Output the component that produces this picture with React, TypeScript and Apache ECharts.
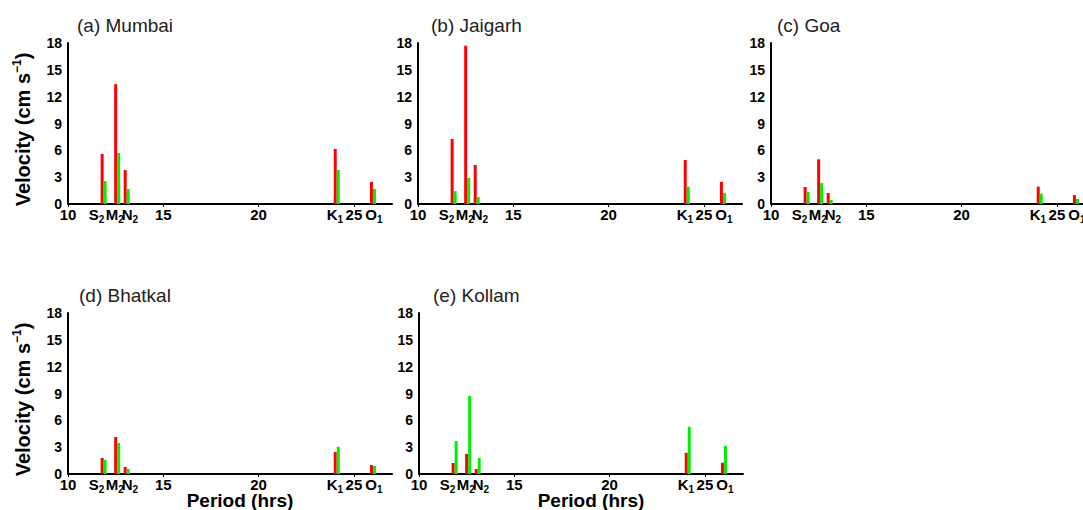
import React, { useEffect, useRef } from "react";
import * as echarts from "echarts";

// Tidal constituents and where their bars / labels sit on the period axis (hrs)
const constituents = ["S2", "M2", "N2", "K1", "O1"];
const barPeriods = [11.87, 12.58, 13.08, 24.1, 26.0];
const labelPeriods = [11.5, 12.45, 13.25, 24.0, 26.05];
const periodTicks = [10, 15, 20, 25];

const stations = ["(a) Mumbai", "(b) Jaigarh", "(c) Goa", "(d) Bhatkal", "(e) Kollam"];

// Velocity (cm s^-1), red and green bars per station
const mumbaiRed = [5.6, 13.4, 3.8, 6.15, 2.48];
const mumbaiGreen = [2.57, 5.7, 1.68, 3.8, 1.68];
const jaigarhRed = [7.27, 17.7, 4.36, 4.92, 2.48];
const jaigarhGreen = [1.45, 2.9, 0.78, 1.94, 1.25];
const goaRed = [1.9, 5.0, 1.23, 1.94, 1.0];
const goaGreen = [1.34, 2.35, 0.45, 1.15, 0.56];
const bhatkalRed = [1.79, 4.14, 0.78, 2.46, 1.0];
const bhatkalGreen = [1.57, 3.47, 0.56, 3.04, 0.9];
const kollamRed = [1.23, 2.24, 0.56, 2.37, 1.25];
const kollamGreen = [3.69, 8.72, 1.79, 5.28, 3.15];

const redSets = [mumbaiRed, jaigarhRed, goaRed, bhatkalRed, kollamRed];
const greenSets = [mumbaiGreen, jaigarhGreen, goaGreen, bhatkalGreen, kollamGreen];

const FONT = "Liberation Sans, Arial, Helvetica, sans-serif";

// layout of the five panels (pixels)
const panels = [
  { left: 68, top: 43, titleLeft: 77, titleTop: 16 },
  { left: 418, top: 43, titleLeft: 431, titleTop: 16 },
  { left: 771, top: 43, titleLeft: 777, titleTop: 16 },
  { left: 68, top: 313, titleLeft: 79, titleTop: 286 },
  { left: 419, top: 313, titleLeft: 433, titleTop: 286 },
];

const key = (v: number) => (Math.round(v * 100) / 100).toFixed(2);

export default function App() {
  const ref = useRef<HTMLDivElement>(null);

  useEffect(() => {
    if (!ref.current) return;
    const chart = echarts.init(ref.current, undefined, { renderer: "svg" });

    const labelMap: Record<string, string> = {};
    periodTicks.forEach((t) => (labelMap[key(t)] = `{b|${t}}`));
    constituents.forEach((c, i) => {
      labelMap[key(labelPeriods[i])] = `{b|${c[0]}}{s|${c.slice(1)}}`;
    });
    const labelValues = [...periodTicks, ...labelPeriods].sort((a, b) => a - b);

    const grids = panels.map((p) => ({
      left: p.left,
      top: p.top,
      width: 324,
      height: 161,
      outerBoundsMode: "none",
      containLabel: false,
    }));

    const xAxes = panels.map((p, i) => ({
      type: "value",
      gridIndex: i,
      min: 10,
      max: 27,
      splitLine: { show: false },
      axisLine: { show: true, onZero: false, lineStyle: { color: "#000", width: 2 } },
      axisTick: {
        show: true,
        customValues: periodTicks,
        length: 3,
        lineStyle: { color: "#000", width: 1 },
      },
      axisLabel: {
        customValues: labelValues,
        margin: 1,
        color: "#000",
        formatter: (v: number) => labelMap[key(v)] ?? "",
        rich: {
          b: { fontSize: 15, fontWeight: "bold", fontFamily: FONT, color: "#000", lineHeight: 19 },
          s: { fontSize: 10, fontWeight: "bold", fontFamily: FONT, color: "#000", verticalAlign: "bottom" },
        },
      },
      name: i >= 3 ? "Period (hrs)" : "",
      nameLocation: "middle",
      nameGap: 17,
      nameMoveOverlap: false,
      nameTextStyle: {
        fontSize: 19,
        fontWeight: "bold",
        fontFamily: FONT,
        color: "#000",
        padding: [0, 0, 0, 20],
      },
    }));

    const yAxes = panels.map((p, i) => ({
      type: "value",
      gridIndex: i,
      min: 0,
      max: 18,
      interval: 3,
      splitLine: { show: false },
      axisLine: { show: true, lineStyle: { color: "#000", width: 2 } },
      axisTick: { show: false },
      axisLabel: {
        margin: 6,
        color: "#000",
        fontSize: 14,
        fontWeight: "bold",
        fontFamily: FONT,
      },
      name: i === 0 || i === 3 ? "{a|Velocity (cm s}{sup|−1}{a|)}" : "",
      nameLocation: "middle",
      nameGap: 34,
      nameRotate: 90,
      nameTextStyle: {
        padding: [0, 12, 0, 0],
        rich: {
          a: { fontSize: 20, fontWeight: "bold", fontFamily: FONT, color: "#000", lineHeight: 23 },
          sup: { fontSize: 12, fontWeight: "bold", fontFamily: FONT, color: "#000", verticalAlign: "top" },
        },
      },
    }));

    const series: any[] = [];
    panels.forEach((p, i) => {
      series.push({
        type: "bar",
        name: "red",
        xAxisIndex: i,
        yAxisIndex: i,
        barWidth: 3,
        barGap: "0%",
        itemStyle: { color: "#ff0000" },
        data: barPeriods.map((x, j) => [x, redSets[i][j]]),
      });
      series.push({
        type: "bar",
        name: "green",
        xAxisIndex: i,
        yAxisIndex: i,
        barWidth: 3,
        barGap: "0%",
        itemStyle: { color: "#00ee00" },
        data: barPeriods.map((x, j) => [x, greenSets[i][j]]),
      });
    });

    const titles = panels.map((p, i) => ({
      text: stations[i],
      left: p.titleLeft,
      top: p.titleTop,
      padding: 0,
      textStyle: { fontSize: 19, fontWeight: "normal", fontFamily: FONT, color: "#222" },
    }));

    chart.setOption({
      animation: false,
      backgroundColor: "#fff",
      title: titles,
      grid: grids,
      xAxis: xAxes,
      yAxis: yAxes,
      series,
    });

    return () => chart.dispose();
  }, []);

  return (
    <div
      ref={ref}
      style={{ position: "fixed", left: 0, top: 0, width: 1083, height: 510, background: "#fff" }}
    />
  );
}
